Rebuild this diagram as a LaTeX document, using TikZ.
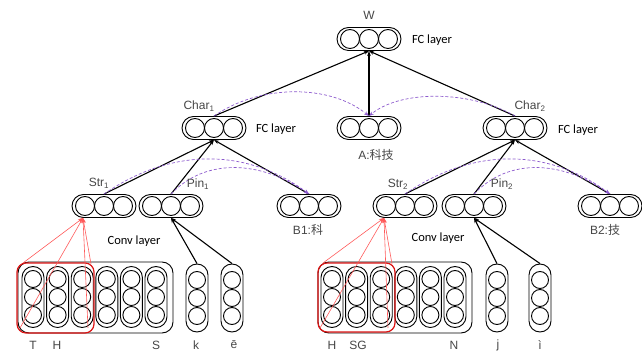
\documentclass[tikz,border=0pt]{standalone}
\usepackage{fontspec}
\setmainfont{Liberation Sans}
\newfontfamily\calib{Carlito}
\newfontfamily\cjk{Noto Sans CJK SC}
\usetikzlibrary{arrows.meta}

\definecolor{labelgrey}{RGB}{70,70,70}
\definecolor{dashpurple}{RGB}{140,90,205}
\definecolor{boxred}{RGB}{220,20,20}
\definecolor{linkred}{RGB}{255,90,90}

\tikzset{
  hpillbox/.style={draw, line width=0.9pt, rounded corners=11.5pt,
    minimum width=64pt, minimum height=23pt, inner sep=0pt},
  vpillbox/.style={draw, line width=0.9pt, rounded corners=11pt,
    minimum width=22pt, inner sep=0pt},
  cell/.style={line width=0.9pt},
  convbox/.style={draw, line width=0.9pt, rounded corners=11pt, inner sep=0pt},
  windowbox/.style={draw=boxred, line width=1.2pt, rounded corners=9pt, inner sep=0pt},
  feed/.style={line width=1.1pt, -{Stealth[length=5pt,width=3.5pt]}},
  window/.style={linkred, line width=0.6pt, -{Stealth[length=5pt,width=4pt]}},
  share/.style={dashpurple, line width=0.7pt, dash pattern=on 3pt off 2pt,
    -{Stealth[length=5pt,width=3.5pt]}},
  lbl/.style={text=labelgrey, font=\fontsize{12}{14}\selectfont, inner sep=0pt},
  layername/.style={text=black, font=\calib\fontsize{12.5}{14}\selectfont, inner sep=0pt},
}

% horizontal layer: rounded box holding three cells
\newcommand\hlayer[3]{%
  \node[hpillbox] (#1) at (#2,#3) {};
  \foreach \d in {-19,0,19}
    \draw[cell] ([xshift=\d pt]#1.center) circle (9.5pt);
}
% vertical column: rounded box holding three cells
\newcommand\vcolumn[4]{%
  \node[vpillbox, minimum height=#4pt] (#1) at (#2,#3) {};
  \foreach \d in {-18,0,18}
    \draw[cell] ([yshift=\d pt]#1.center) circle (8.5pt);
}

\begin{document}
\begin{tikzpicture}[x=1pt,y=-1pt]
\useasboundingbox (0,0) rectangle (642,352);

% ---- fully connected layers ----
\hlayer{W}{369}{39}
\hlayer{Char1}{214}{128}
\hlayer{A}{369}{128}
\hlayer{Char2}{515}{128}
\hlayer{Str1}{104}{206}
\hlayer{Pin1}{171}{206}
\hlayer{B1}{309}{206}
\hlayer{Str2}{405}{206}
\hlayer{Pin2}{474}{206}
\hlayer{B2}{610}{206}

% ---- convolution inputs ----
\node[convbox, minimum width=155pt, minimum height=71pt] (conv1) at (95.5,297.5) {};
\node[convbox, minimum width=154pt, minimum height=71pt] (conv2) at (395,297.5) {};
\foreach \i in {0,...,5} {
  \vcolumn{ca\i}{33+24.6*\i}{297}{61}
  \vcolumn{cb\i}{332+24.6*\i}{297}{61}
}
\vcolumn{k}{197}{298}{68}
\vcolumn{e}{232}{298}{68}
\vcolumn{j}{497}{298}{68}
\vcolumn{i}{540}{298}{68}

\node[windowbox, minimum width=77pt, minimum height=70pt] (win1) at (55.5,298) {};
\node[windowbox, minimum width=77pt, minimum height=69pt] (win2) at (356.5,297.5) {};

% ---- window corners and the cell they feed ----
\coordinate (s1) at ([xshift=-21pt]Str1.south);
\coordinate (s2) at ([xshift=-21pt]Str2.south);
\coordinate (w1a) at (23,263);  \coordinate (w1b) at (20,328);
\coordinate (w1c) at (88,328);  \coordinate (w1d) at (91,264);
\coordinate (w2a) at (323,263); \coordinate (w2b) at (320,328);
\coordinate (w2c) at (388,328); \coordinate (w2d) at (392,264);
\foreach \c in {a,b,c,d} {
  \draw[window] (w1\c) -- (s1);
  \draw[window] (w2\c) -- (s2);
}

% ---- feed-forward connections ----
\draw[feed] (Char1.north) -- (W.south);
\draw[feed] (A.north) -- (W.south);
\draw[feed] (Char2.north) -- (W.south);
\draw[feed] (Str1.north) -- (Char1.south);
\draw[feed] (Pin1.north) -- (Char1.south);
\draw[feed] (B1.north) -- (Char1.south);
\draw[feed] (Str2.north) -- (Char2.south);
\draw[feed] (Pin2.north) -- (Char2.south);
\draw[feed] (B2.north) -- (Char2.south);
\draw[feed] (k.north) -- (Pin1.south);
\draw[feed] (e.north) -- (Pin1.south);
\draw[feed] (j.north) -- (Pin2.south);
\draw[feed] (i.north) -- (Pin2.south);

% ---- shared-representation links ----
\draw[share] (Char1.north) .. controls (260,84) and (330,84) .. (A.north);
\draw[share] (Char2.north) .. controls (470,90) and (400,90) .. (A.north);
\draw[share] (Str1.north) .. controls (175,145) and (250,150) .. (B1.north);
\draw[share] (Pin1.north) .. controls (205,158) and (260,160) .. (B1.north);
\draw[share] (Str2.north) .. controls (476,145) and (551,150) .. (B2.north);
\draw[share] (Pin2.north) .. controls (508,158) and (561,160) .. (B2.north);

% ---- labels ----
\node[lbl] (tW) at (369,15) {W};
\node[layername] (fcW) at (432,40) {FC layer};
\node[lbl] (tC1) at (199,106) {Char\textsubscript{1}};
\node[layername] (fc1) at (276,129) {FC layer};
\node[lbl] (tC2) at (530,106) {Char\textsubscript{2}};
\node[layername] (fc2) at (578,130) {FC layer};
\node[lbl] (tA) at (376,155) {A:{\cjk 科技}};
\node[lbl] (tS1) at (99,183) {Str\textsubscript{1}};
\node[lbl] (tP1) at (198,184) {Pin\textsubscript{1}};
\node[lbl] (tS2) at (398,184) {Str\textsubscript{2}};
\node[lbl] (tP2) at (502,184) {Pin\textsubscript{2}};
\node[lbl] (tB1) at (308,230) {B1:{\cjk 科}};
\node[lbl] (tB2) at (605,230) {B2:{\cjk 技}};
\node[layername] (cv1) at (134,241) {Conv layer};
\node[layername] (cv2) at (438,238) {Conv layer};

\node[lbl] (lT) at (33,345) {T};
\node[lbl] (lH) at (57,345) {H};
\node[lbl] (lS) at (156,345) {S};
\node[lbl] (lk) at (196,345) {k};
\node[lbl] (le) at (234,345) {ē};
\node[lbl] (lH2) at (332,345) {H};
\node[lbl] (lSG) at (358,345) {SG};
\node[lbl] (lN) at (454,345) {N};
\node[lbl] (lj) at (498,345) {j};
\node[lbl] (li) at (540,345) {ì};
\end{tikzpicture}
\end{document}
